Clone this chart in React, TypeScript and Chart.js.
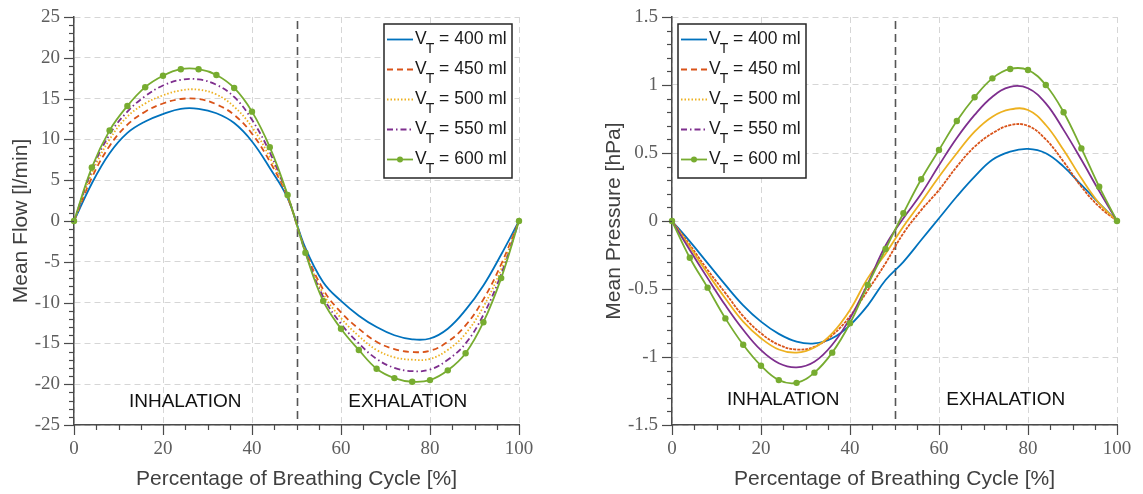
import React, { useEffect, useRef } from 'react';
import { Chart, registerables } from 'chart.js';

Chart.register(...registerables);

// ---------- data ----------
const cyclePercent = [0, 4, 8, 12, 16, 20, 24, 28, 32, 36, 40, 44, 48, 52, 56, 60, 64, 68, 72, 76, 80, 84, 88, 92, 96, 100];

const volumeLabels = ['400', '450', '500', '550', '600'];

const flow400 = [0, 4.6, 8.3, 10.8, 12.2, 13.1, 13.75, 13.75, 13.2, 12.0, 9.75, 6.5, 2.8, -3.3, -7.5, -9.8, -11.6, -13.0, -14.0, -14.5, -14.4, -13.2, -10.9, -7.9, -4.1, 0];
const flow450 = [0, 5.3, 9.2, 11.8, 13.4, 14.4, 14.95, 14.95, 14.3, 13.0, 10.7, 7.3, 2.9, -3.6, -8.4, -11.2, -13.2, -14.8, -15.7, -16.05, -15.9, -14.8, -12.8, -9.6, -5.3, 0];
const flow500 = [0, 5.8, 10.0, 12.8, 14.4, 15.4, 16.0, 16.1, 15.5, 14.0, 11.5, 7.8, 3.0, -3.7, -8.9, -11.9, -14.1, -15.8, -16.7, -17.0, -16.9, -15.8, -13.8, -10.5, -5.9, 0];
const flow550 = [0, 6.2, 10.6, 13.4, 15.3, 16.6, 17.3, 17.35, 16.7, 15.2, 12.4, 8.4, 3.1, -3.8, -9.3, -12.6, -15.0, -16.9, -18.0, -18.4, -18.2, -17.0, -15.0, -11.5, -6.5, 0];
const flow600 = [0, 6.55, 11.1, 14.1, 16.4, 17.8, 18.6, 18.6, 17.9, 16.3, 13.4, 9.05, 3.2, -3.9, -9.8, -13.2, -15.8, -18.1, -19.25, -19.7, -19.5, -18.3, -16.2, -12.4, -7.0, 0];

const pressure400 = [0, -0.15, -0.31, -0.47, -0.62, -0.74, -0.83, -0.887, -0.9, -0.862, -0.765, -0.62, -0.434, -0.3, -0.14, 0.02, 0.18, 0.326, 0.45, 0.51, 0.53, 0.498, 0.4, 0.265, 0.13, 0];
const pressure450 = [0, -0.176, -0.36, -0.53, -0.7, -0.826, -0.91, -0.945, -0.925, -0.84, -0.7, -0.51, -0.31, -0.09, 0.08, 0.228, 0.4, 0.546, 0.645, 0.705, 0.7, 0.6, 0.436, 0.252, 0.105, 0];
const pressure500 = [0, -0.19, -0.385, -0.57, -0.74, -0.862, -0.945, -0.968, -0.93, -0.826, -0.654, -0.42, -0.24, -0.04, 0.14, 0.326, 0.498, 0.657, 0.767, 0.82, 0.816, 0.706, 0.522, 0.314, 0.13, 0];
const pressure550 = [0, -0.213, -0.42, -0.62, -0.8, -0.95, -1.046, -1.076, -1.035, -0.91, -0.716, -0.46, -0.18, 0.02, 0.2, 0.41, 0.61, 0.78, 0.914, 0.987, 0.976, 0.865, 0.67, 0.45, 0.22, 0];
const pressure600 = [0, -0.27, -0.49, -0.716, -0.91, -1.064, -1.17, -1.19, -1.115, -0.968, -0.752, -0.47, -0.206, 0.057, 0.307, 0.522, 0.735, 0.91, 1.049, 1.118, 1.11, 1.0, 0.8, 0.534, 0.252, 0];

const phaseLabels = ['INHALATION', 'EXHALATION'];
const phaseCenters = [25, 75];

// ---------- styles ----------
const COLORS = ['#0072BD', '#D95319', '#EDB120', '#7E2F8E', '#77AC30'];
const LEGEND_DASH: number[][] = [[], [6, 4], [1.5, 2], [6, 3, 1.5, 3], []];
const SANS = '"Liberation Sans", Arial, Helvetica, sans-serif';
const SERIF = '"Liberation Serif", "Times New Roman", serif';
const TICK_COLOR = '#5e5e5e';
const AXIS_COLOR = '#4a4a4a';
const GRID_COLOR = '#d6d6d6';

type PanelCfg = {
  series: number[][];
  plotDash: number[][];
  yMin: number;
  yMax: number;
  yStep: number;
  yMinor: number;
  yTitle: string;
  phaseY: number;
  legendSide: 'left' | 'right';
  padLeft: number;
  padRight: number;
  yAxisWidth: number;
  yTitlePad: number;
};

function makeDecorPlugin(cfg: PanelCfg) {
  return {
    id: 'decor',
    beforeDatasetsDraw(chart: any) {
      const { ctx, chartArea } = chart;
      const xs = chart.scales.x;
      const px = Math.round(xs.getPixelForValue(50)) + 0.5;
      ctx.save();
      ctx.strokeStyle = '#555555';
      ctx.lineWidth = 1.6;
      ctx.setLineDash([8, 5]);
      ctx.beginPath();
      ctx.moveTo(px, chartArea.top + 4);
      ctx.lineTo(px, chartArea.bottom);
      ctx.stroke();
      ctx.restore();
    },
    afterDatasetsDraw(chart: any) {
      const { ctx, chartArea } = chart;
      const xs = chart.scales.x;
      const ys = chart.scales.y;
      ctx.save();
      // minor & major tick marks
      ctx.strokeStyle = AXIS_COLOR;
      ctx.lineWidth = 1.2;
      ctx.setLineDash([]);
      const nY = Math.round((cfg.yMax - cfg.yMin) / cfg.yMinor);
      const perMajorY = Math.round(cfg.yStep / cfg.yMinor);
      for (let i = 0; i <= nY; i++) {
        const v = cfg.yMin + i * cfg.yMinor;
        const len = i % perMajorY === 0 ? 10 : 5;
        const py = Math.round(ys.getPixelForValue(v)) + 0.5;
        ctx.beginPath();
        ctx.moveTo(chartArea.left - len, py);
        ctx.lineTo(chartArea.left, py);
        ctx.stroke();
      }
      for (let i = 0; i <= 20; i++) {
        const v = i * 5;
        const len = i % 4 === 0 ? 10 : 5;
        const pxx = Math.round(xs.getPixelForValue(v)) + 0.5;
        ctx.beginPath();
        ctx.moveTo(pxx, chartArea.bottom);
        ctx.lineTo(pxx, chartArea.bottom + len);
        ctx.stroke();
      }
      // phase labels
      ctx.fillStyle = '#111111';
      ctx.font = `19px ${SANS}`;
      ctx.textAlign = 'center';
      ctx.textBaseline = 'middle';
      phaseLabels.forEach((t, i) => {
        ctx.fillText(t, xs.getPixelForValue(phaseCenters[i]), ys.getPixelForValue(cfg.phaseY) + 1);
      });
      ctx.restore();
    },
    afterDraw(chart: any) {
      const { ctx, chartArea } = chart;
      const boxW = 128;
      const boxH = 154;
      const bx = cfg.legendSide === 'right' ? chartArea.right - 7 - boxW : chartArea.left + 6;
      const by = chartArea.top + 7;
      ctx.save();
      ctx.fillStyle = '#ffffff';
      ctx.fillRect(bx, by, boxW, boxH);
      ctx.strokeStyle = '#262626';
      ctx.lineWidth = 1.5;
      ctx.setLineDash([]);
      ctx.strokeRect(bx, by, boxW, boxH);
      volumeLabels.forEach((vl, i) => {
        const baseY = by + 19.5 + 30 * i;
        const lineY = baseY - 4;
        ctx.strokeStyle = COLORS[i];
        ctx.lineWidth = 1.8;
        ctx.setLineDash(LEGEND_DASH[i]);
        ctx.beginPath();
        ctx.moveTo(bx + 3, lineY);
        ctx.lineTo(bx + 29, lineY);
        ctx.stroke();
        ctx.setLineDash([]);
        if (i === 4) {
          ctx.fillStyle = COLORS[i];
          ctx.beginPath();
          ctx.arc(bx + 16, lineY, 3, 0, Math.PI * 2);
          ctx.fill();
        }
        ctx.fillStyle = '#1a1a1a';
        ctx.textAlign = 'left';
        ctx.textBaseline = 'alphabetic';
        let tx = bx + 31;
        ctx.font = `17.5px ${SANS}`;
        ctx.fillText('V', tx, baseY);
        tx += ctx.measureText('V').width - 1;
        ctx.font = `14px ${SANS}`;
        ctx.fillText('T', tx, baseY + 9.4);
        tx += ctx.measureText('T').width;
        ctx.font = `17.5px ${SANS}`;
        ctx.fillText(` = ${vl} ml`, tx, baseY);
      });
      ctx.restore();
    },
  };
}

function buildChart(canvas: HTMLCanvasElement, cfg: PanelCfg) {
  const datasets = cfg.series.map((data, i) => ({
    label: `VT = ${volumeLabels[i]} ml`,
    data: cyclePercent.map((x, k) => ({ x, y: data[k] })),
    borderColor: COLORS[i],
    backgroundColor: COLORS[i],
    borderWidth: 1.8,
    borderDash: cfg.plotDash[i],
    pointRadius: i === 4 ? 3.2 : 0,
    pointBorderWidth: 0,
    pointBackgroundColor: COLORS[i],
    tension: 0.4,
    fill: false,
    clip: false as any,
    order: 5 - i,
  }));
  return new Chart(canvas, {
    type: 'line',
    data: { datasets },
    options: {
      responsive: false,
      animation: false,
      events: [],
      layout: { padding: { left: cfg.padLeft, top: 17, right: cfg.padRight, bottom: 0 } },
      plugins: { legend: { display: false }, tooltip: { enabled: false } },
      scales: {
        x: {
          type: 'linear',
          min: 0,
          max: 100,
          ticks: {
            stepSize: 20,
            color: TICK_COLOR,
            font: { family: SERIF, size: 19 },
            padding: 13,
            maxRotation: 0,
            callback: (v: any) => String(v),
          },
          grid: { color: GRID_COLOR, lineWidth: 1, drawTicks: false },
          border: { color: AXIS_COLOR, width: 1.5, dash: [6, 4] },
          title: {
            display: true,
            text: 'Percentage of Breathing Cycle [%]',
            color: '#404040',
            font: { family: SANS, size: 21 },
            padding: { top: 0, bottom: 2.5 },
          },
          afterFit: (s: any) => {
            s.height = 69;
            s.paddingLeft = 0;
            s.paddingRight = 0;
          },
        },
        y: {
          type: 'linear',
          min: cfg.yMin,
          max: cfg.yMax,
          ticks: {
            stepSize: cfg.yStep,
            color: TICK_COLOR,
            font: { family: SERIF, size: 19 },
            padding: 14,
            callback: (v: any) => String(Math.round(Number(v) * 10) / 10),
          },
          grid: { color: GRID_COLOR, lineWidth: 1, drawTicks: false },
          border: { color: AXIS_COLOR, width: 1.5, dash: [6, 4] },
          title: {
            display: true,
            text: cfg.yTitle,
            color: '#404040',
            font: { family: SANS, size: 21 },
            padding: { top: cfg.yTitlePad, bottom: 0 },
          },
          afterFit: (s: any) => {
            s.width = cfg.yAxisWidth;
            s.paddingTop = 0;
            s.paddingBottom = 0;
          },
        },
      },
    },
    plugins: [makeDecorPlugin(cfg) as any],
  });
}

const flowCfg: PanelCfg = {
  series: [flow400, flow450, flow500, flow550, flow600],
  plotDash: [[], [6, 4], [1.5, 2], [6, 3, 1.5, 3], []],
  yMin: -25,
  yMax: 25,
  yStep: 5,
  yMinor: 1,
  yTitle: 'Mean Flow [l/min]',
  phaseY: -22,
  legendSide: 'right',
  padLeft: 0,
  padRight: 52,
  yAxisWidth: 74,
  yTitlePad: 8.6,
};

const pressureCfg: PanelCfg = {
  series: [pressure400, pressure450, pressure500, pressure550, pressure600],
  plotDash: [[], [3, 1], [], [], []],
  yMin: -1.5,
  yMax: 1.5,
  yStep: 0.5,
  yMinor: 0.1,
  yTitle: 'Mean Pressure [hPa]',
  phaseY: -1.31,
  legendSide: 'left',
  padLeft: 0,
  padRight: 26,
  yAxisWidth: 101,
  yTitlePad: 30.6,
};

export default function App() {
  const leftRef = useRef<HTMLCanvasElement | null>(null);
  const rightRef = useRef<HTMLCanvasElement | null>(null);

  useEffect(() => {
    const c1 = buildChart(leftRef.current as HTMLCanvasElement, flowCfg);
    const c2 = buildChart(rightRef.current as HTMLCanvasElement, pressureCfg);
    return () => {
      c1.destroy();
      c2.destroy();
    };
  }, []);

  return (
    <div style={{ position: 'absolute', left: 0, top: 0, width: 1143, height: 494, background: '#ffffff', overflow: 'hidden' }}>
      <canvas ref={leftRef} width={571} height={494} style={{ position: 'absolute', left: 0, top: 0, width: 571, height: 494 }} />
      <canvas ref={rightRef} width={572} height={494} style={{ position: 'absolute', left: 571, top: 0, width: 572, height: 494 }} />
    </div>
  );
}
